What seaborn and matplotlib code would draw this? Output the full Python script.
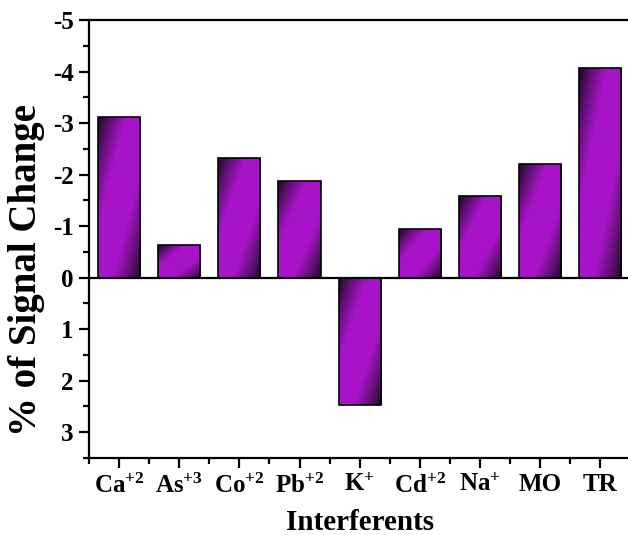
import matplotlib
matplotlib.use('Agg')
import matplotlib.pyplot as plt
import seaborn as sns
import numpy as np
import pandas as pd
from matplotlib.colors import LinearSegmentedColormap
from matplotlib.ticker import MultipleLocator, FixedLocator

# ---- data ----
categories = ['Ca', 'As', 'Co', 'Pb', 'K', 'Cd', 'Na', 'MO', 'TR']
charges = ['+2', '+3', '+2', '+2', '+', '+2', '+', '', '']
values = [-3.12, -0.64, -2.33, -1.87, 2.48, -0.95, -1.58, -2.20, -4.07]
tick_labels = [c + (r'$^{' + q + '}$' if q else '') for c, q in zip(categories, charges)]
y_ticks = [-5, -4, -3, -2, -1, 0, 1, 2, 3]

bright = '#a814c8'
dark = '#1c0a20'
mid = '#5e1072'

sns.set_theme(style='white')
plt.rcParams['font.family'] = ['Liberation Serif', 'DejaVu Serif']
plt.rcParams['font.weight'] = 'bold'
plt.rcParams['mathtext.fontset'] = 'custom'
plt.rcParams['mathtext.rm'] = 'Liberation Serif:bold'
plt.rcParams['mathtext.bf'] = 'Liberation Serif:bold'
plt.rcParams['mathtext.it'] = 'Liberation Serif:bold:italic'
plt.rcParams['axes.unicode_minus'] = False

fig = plt.figure(figsize=(6.28, 5.35), dpi=100)
ax = fig.add_axes([0.1417, 0.1439, 0.862, 0.8187])

df = pd.DataFrame({'Interferent': tick_labels, 'Change': values})
sns.barplot(data=df, x='Interferent', y='Change', color=bright, width=0.7,
            edgecolor='black', linewidth=1.2, ax=ax, zorder=3)

ax.axhline(0, color='black', lw=1.6, zorder=4)

cmap = LinearSegmentedColormap.from_list(
    'grad', [(0, dark), (0.14, mid), (0.33, bright), (0.67, bright), (0.86, mid), (1, dark)])

rows, cols = 200, 60
u = np.linspace(0, 1, cols)
v = np.linspace(0, 1, rows)
tgrid = (u[None, :] + v[:, None]) / 2.0
for p in list(ax.patches):
    x0, w = p.get_x(), p.get_width()
    y0, h = p.get_y(), p.get_height()
    ymin, ymax = min(y0, y0 + h), max(y0, y0 + h)
    im = ax.imshow(tgrid, cmap=cmap, vmin=0, vmax=1,
                   extent=(x0, x0 + w, ymax, ymin), origin='upper',
                   aspect='auto', interpolation='bilinear', zorder=2)
    im.set_clip_path(p)
    p.set_facecolor('none')

ax.set_xlim(-0.5, 8.5)
ax.set_ylim(3.5, -5)
ax.set_yticks(y_ticks)
ax.set_yticklabels([str(t) for t in y_ticks])
ax.yaxis.set_minor_locator(MultipleLocator(0.5))
ax.xaxis.set_minor_locator(FixedLocator(np.arange(-0.5, 9, 1.0)))

for s in ax.spines.values():
    s.set_linewidth(1.6)
    s.set_color('black')

ax.tick_params(axis='both', which='both', bottom=True, left=True, top=False, right=False,
               direction='out', color='black', width=1.6)
ax.tick_params(axis='both', which='major', length=7)
ax.tick_params(axis='both', which='minor', length=4)
ax.tick_params(axis='y', labelsize=18, pad=4, labelcolor='black')
ax.tick_params(axis='x', labelsize=18, pad=4, labelcolor='black')
for lab in ax.get_xticklabels() + ax.get_yticklabels():
    lab.set_fontweight('bold')

ax.set_xlabel('Interferents', fontsize=21, fontweight='bold', color='black', labelpad=8)
ax.set_ylabel('% of Signal Change', fontsize=28, fontweight='bold', color='black')
ax.yaxis.set_label_coords(-0.082, 0.43)

fig.savefig('out.png', dpi=100)
